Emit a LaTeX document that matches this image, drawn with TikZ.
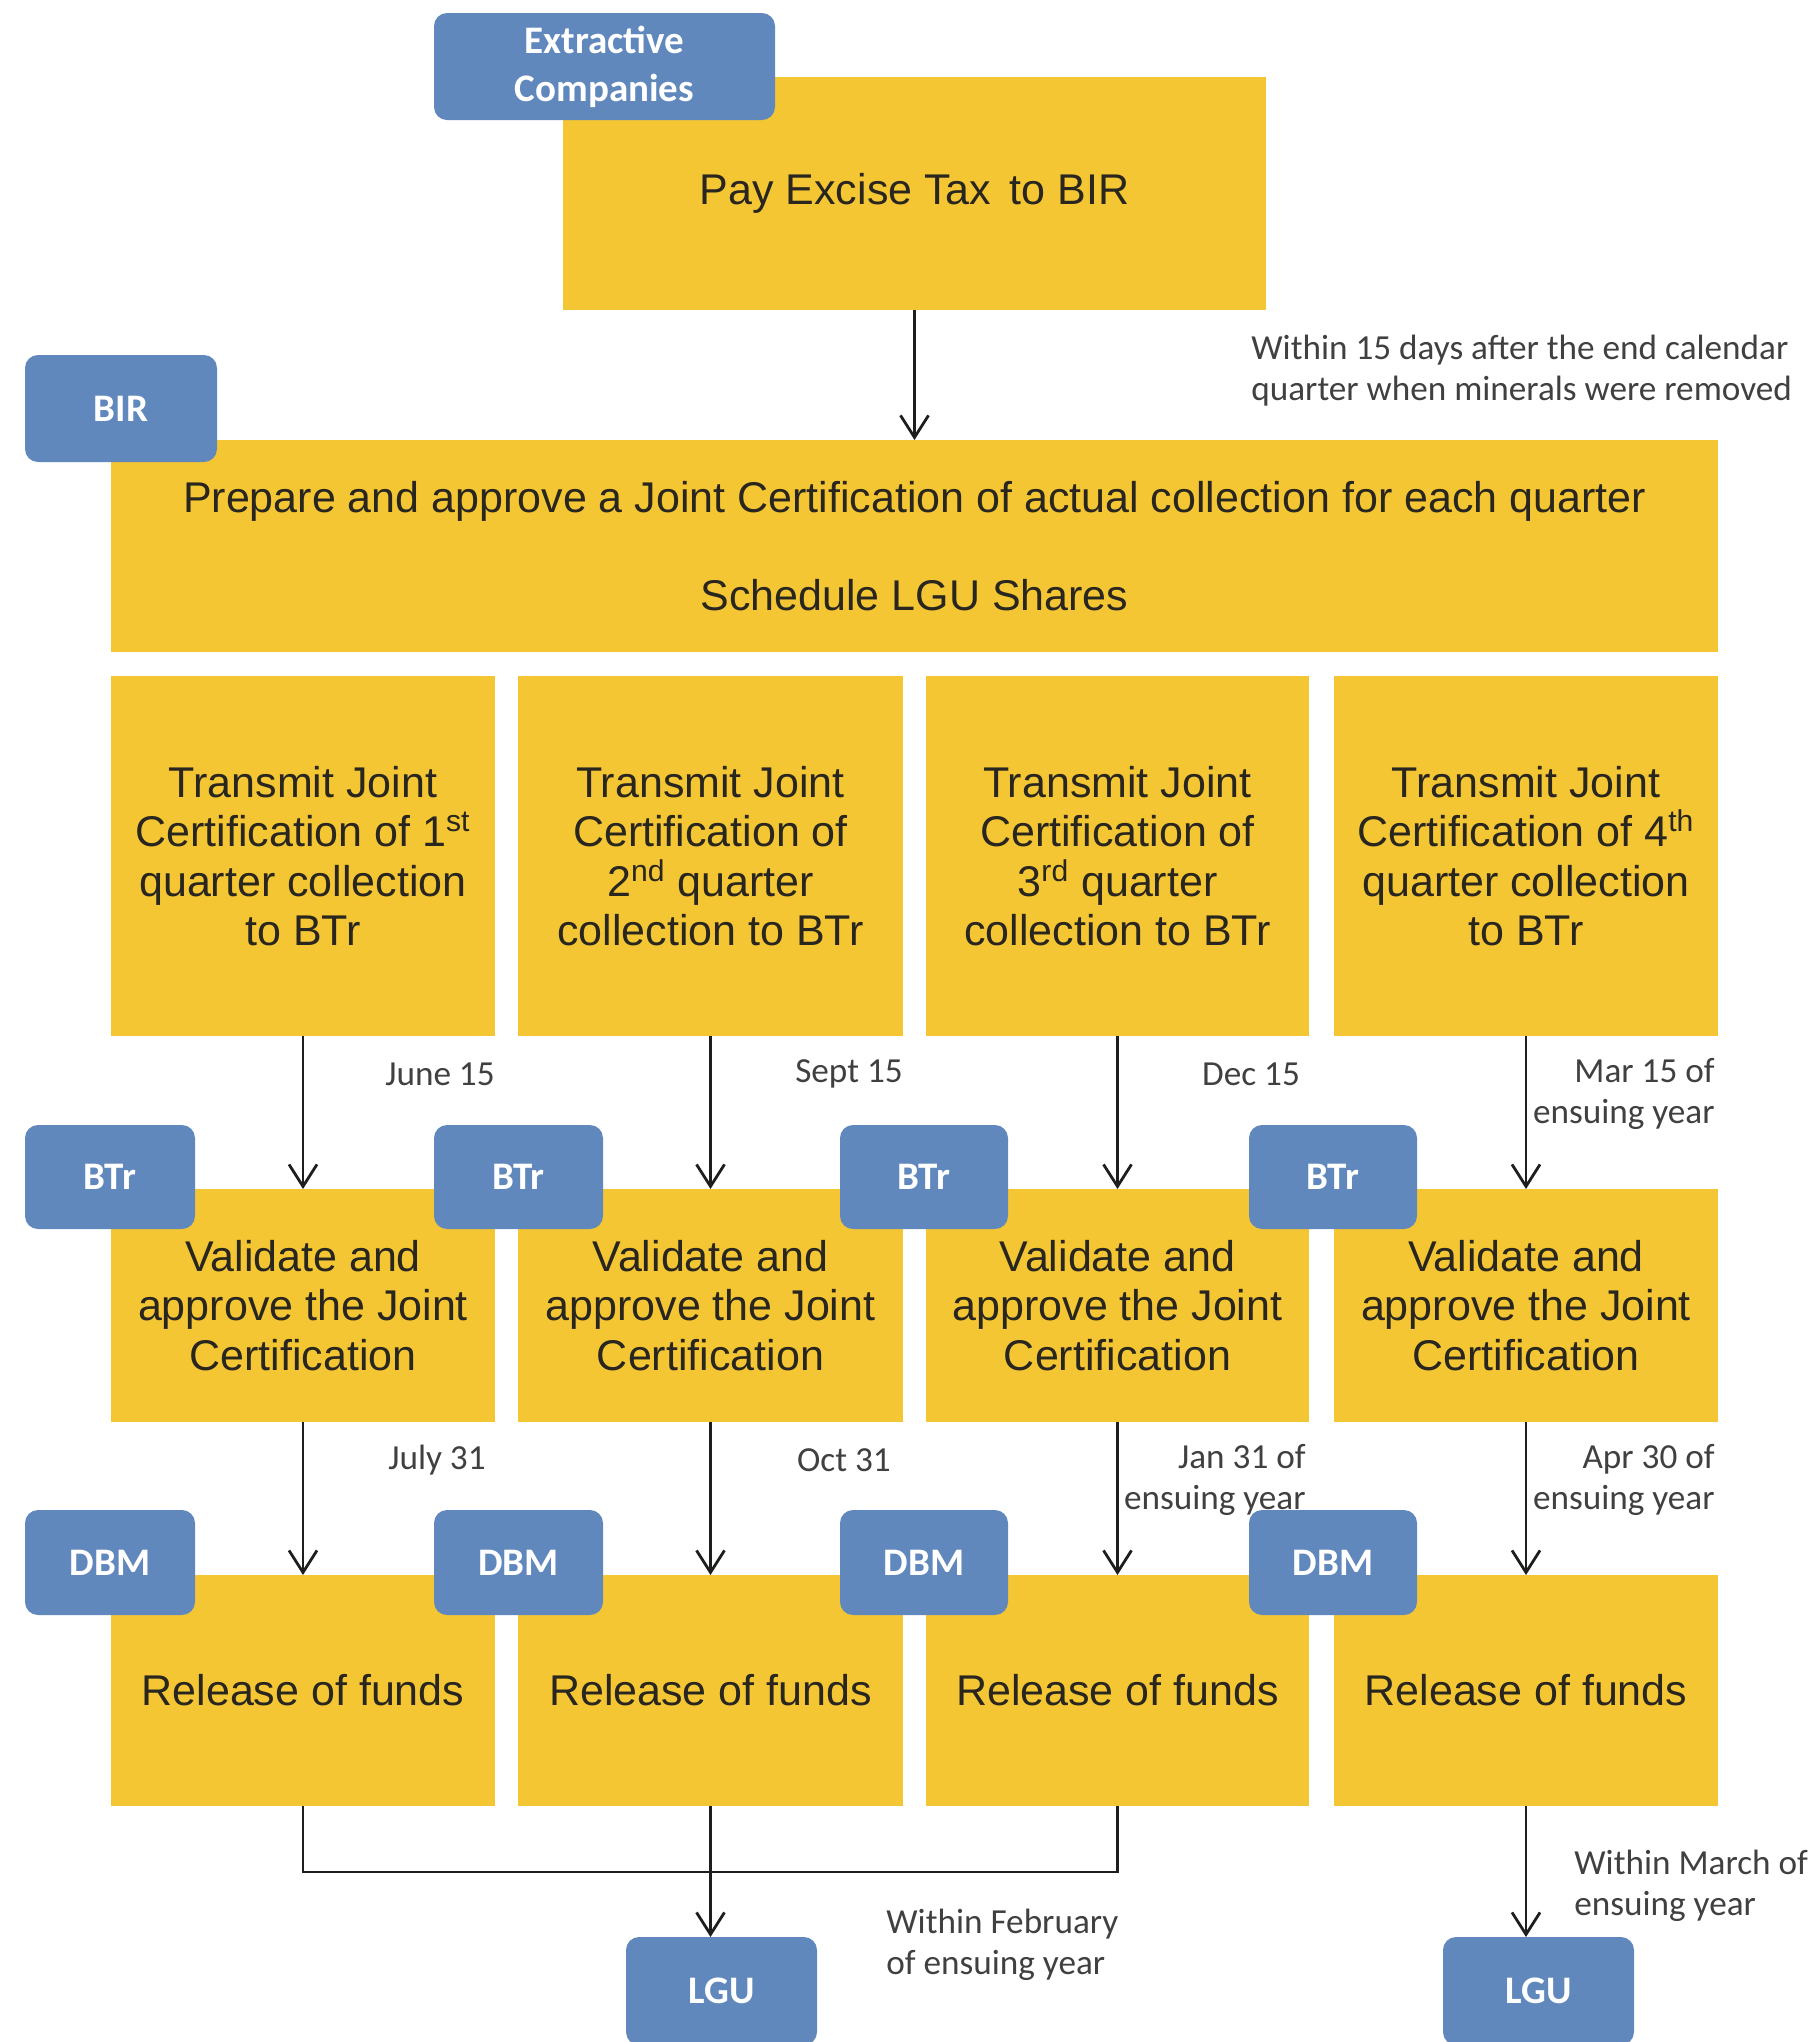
\documentclass[tikz,border=0pt]{standalone}
\usepackage{fontspec}
\setmainfont{Liberation Sans}
\newfontfamily\calibri{Carlito}
\usetikzlibrary{arrows.meta}
\definecolor{ygold}{RGB}{244,198,52}
\definecolor{bblue}{RGB}{97,136,189}
\definecolor{ytext}{RGB}{40,38,30}
\definecolor{ltext}{RGB}{64,64,64}
\definecolor{lineclr}{RGB}{30,30,30}
\newcommand\mkbox[7]{\node[#6, minimum width={(#4-#2)*0.5pt}, minimum height={(#5-#3)*0.5pt}] (#1) at ({(#2+#4)/2},{(#3+#5)/2}) {#7};}
\tikzset{
  ybox/.style={fill=ygold, inner sep=0pt, outer sep=0pt, align=center, text=ytext,
    font=\fontsize{21.5}{24.75}\selectfont},
  bbox/.style={fill=bblue, rounded corners=6.5pt, inner sep=0pt, outer sep=0pt, align=center, text=white,
    font=\calibri\bfseries\fontsize{19.5}{24}\selectfont},
  lab/.style={inner sep=0pt, text=ltext, font=\calibri\fontsize{17.6}{20.5}\selectfont},
  arr/.style={draw=lineclr, line width=1.4pt, -{Straight Barb[length=11pt,width=14pt,line width=1.4pt]}},
  con/.style={draw=lineclr, line width=1.4pt}
}
\begin{document}
\begin{tikzpicture}[x=0.5pt,y=-0.5pt]
\useasboundingbox (0,0) rectangle (1817,2042);
\clip (0,0) rectangle (1817,2042);
% yellow boxes
\mkbox{pay}{563}{77}{1266}{310}{ybox}{Pay Excise Tax\hspace{0.15em} to BIR}
\mkbox{big}{111}{440}{1718}{652}{ybox}{Prepare and approve a Joint Certification of actual collection for each quarter\\[24.25pt]Schedule LGU Shares}
\mkbox{q1}{111}{676}{495}{1036}{ybox}{Transmit Joint\\Certification of 1\textsuperscript{st}\\quarter collection\\to BTr}
\mkbox{q2}{518}{676}{903}{1036}{ybox}{Transmit Joint\\Certification of\\2\textsuperscript{nd} quarter\\collection to BTr}
\mkbox{q3}{926}{676}{1309}{1036}{ybox}{Transmit Joint\\Certification of\\3\textsuperscript{rd} quarter\\collection to BTr}
\mkbox{q4}{1334}{676}{1718}{1036}{ybox}{Transmit Joint\\Certification of 4\textsuperscript{th}\\quarter collection\\to BTr}
\mkbox{v1}{111}{1189}{495}{1422}{ybox}{Validate and\\approve the Joint\\Certification}
\mkbox{v2}{518}{1189}{903}{1422}{ybox}{Validate and\\approve the Joint\\Certification}
\mkbox{v3}{926}{1189}{1309}{1422}{ybox}{Validate and\\approve the Joint\\Certification}
\mkbox{v4}{1334}{1189}{1718}{1422}{ybox}{Validate and\\approve the Joint\\Certification}
\mkbox{r1}{111}{1575}{495}{1806}{ybox}{Release of funds}
\mkbox{r2}{518}{1575}{903}{1806}{ybox}{Release of funds}
\mkbox{r3}{926}{1575}{1309}{1806}{ybox}{Release of funds}
\mkbox{r4}{1334}{1575}{1718}{1806}{ybox}{Release of funds}
% blue boxes
\mkbox{ext}{434}{13}{775}{120}{bbox}{Extractive\\Companies}
\mkbox{bir}{25}{355}{217}{462}{bbox}{BIR}
\mkbox{bt1}{25}{1125}{195}{1229}{bbox}{BTr}
\mkbox{bt2}{434}{1125}{603}{1229}{bbox}{BTr}
\mkbox{bt3}{840}{1125}{1008}{1229}{bbox}{BTr}
\mkbox{bt4}{1249}{1125}{1417}{1229}{bbox}{BTr}
\mkbox{db1}{25}{1510}{195}{1615}{bbox}{DBM}
\mkbox{db2}{434}{1510}{603}{1615}{bbox}{DBM}
\mkbox{db3}{840}{1510}{1008}{1615}{bbox}{DBM}
\mkbox{db4}{1249}{1510}{1417}{1615}{bbox}{DBM}
\mkbox{lgu1}{626}{1937}{817}{2045}{bbox}{LGU}
\mkbox{lgu2}{1443}{1937}{1634}{2045}{bbox}{LGU}
% connectors
\draw[arr] (pay.south) -- (big.north);
\foreach \i in {1,2,3,4}{
  \draw[arr] (q\i.south) -- (v\i.north);
  \draw[arr] (v\i.south) -- (r\i.north);
}
\coordinate (bj) at (711,1872);
\draw[con] (r1.south) |- (bj) -| (r3.south);
\draw[arr] (r2.south) -- (r2.south |- lgu1.north);
\draw[arr] (r4.south) -- (r4.south |- lgu2.north);
% labels
\node[lab, anchor=west, align=left] (n0) at (1251,371) {Within 15 days after the end calendar\\quarter when minerals were removed};
\node[lab] (n1) at (440,1074) {June 15};
\node[lab] (n2) at (849,1074) {Sept 15};
\node[lab] (n3) at (1251,1074) {Dec 15};
\node[lab, anchor=east, align=right] (n4) at (1715,1094) {Mar 15 of\\ensuing year};
\node[lab] (n5) at (437,1460) {July 31};
\node[lab] (n6) at (844,1460) {Oct 31};
\node[lab, anchor=east, align=right] (n7) at (1306,1480) {Jan 31 of\\ensuing year};
\node[lab, anchor=east, align=right] (n8) at (1715,1480) {Apr 30 of\\ensuing year};
\node[lab, anchor=west, align=left] (n9) at (886,1945) {Within February\\of ensuing year};
\node[lab, anchor=west, align=left] (n10) at (1574,1886) {Within March of\\ensuing year};
\end{tikzpicture}
\end{document}
